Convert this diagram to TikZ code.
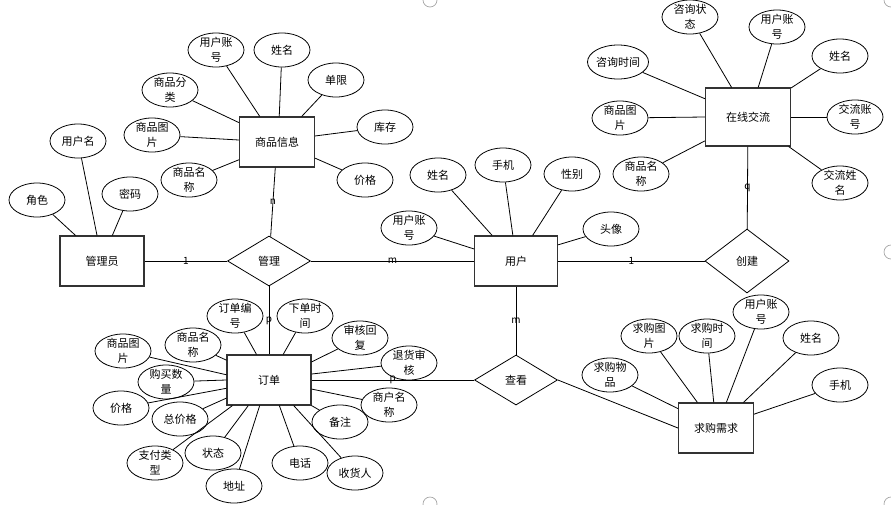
\documentclass[tikz,border=0pt]{standalone}
\usepackage{fontspec}
\setmainfont{Noto Sans CJK SC}
\usepackage{tikz}
\usetikzlibrary{shapes.geometric, positioning}

\begin{document}
\begin{tikzpicture}[x=1pt, y=-1pt, font=\fontsize{11pt}{15pt}\selectfont]
    \tikzstyle{entity} = [rectangle, draw=black!80, line width=1.1pt,
        minimum width=84pt, minimum height=50pt, inner sep=0pt]
    \tikzstyle{attr} = [ellipse, draw, line width=0.8pt, align=center,
        minimum width=56pt, minimum height=34pt, inner sep=-5pt]
    \tikzstyle{rel} = [diamond, draw, line width=0.8pt,
        minimum width=83pt, minimum height=50pt, inner sep=0pt]
    \tikzstyle{line} = [draw, line width=0.8pt]
    \tikzstyle{card} = [font=\fontsize{10pt}{10pt}\selectfont, inner sep=0pt]
    \tikzstyle{handle} = [draw=black!35, line width=0.7pt]

    \useasboundingbox (0,0) rectangle (891,504);

    % entities
    \node [entity, minimum width=75pt] (goods) at (277,142) {商品信息};
    \node [entity] (admin) at (102,261) {管理员};
    \node [entity, minimum width=83pt] (user) at (516,261) {用户};
    \node [entity, minimum width=85pt, minimum height=58pt] (chat) at (748,117) {在线交流};
    \node [entity] (order) at (269,380) {订单};
    \node [entity, minimum width=75pt] (want) at (716,428) {求购需求};

    % relations
    \node [rel] (manage) at (269,261) {管理};
    \node [rel, minimum width=84pt, minimum height=64pt] (create) at (747,261) {创建};
    \node [rel] (view) at (516,380) {查看};

    % goods attributes
    \node [attr] (gAcct) at (216,50) {用户账\\号};
    \node [attr] (gName) at (282,50) {姓名};
    \node [attr] (gLimit) at (336,80) {单限};
    \node [attr] (gStock) at (385,127) {库存};
    \node [attr] (gPrice) at (365,180) {价格};
    \node [attr] (gTitle) at (189,180) {商品名\\称};
    \node [attr] (gPic) at (152,135) {商品图\\片};
    \node [attr] (gType) at (170,90) {商品分\\类};

    % admin attributes
    \node [attr] (aName) at (78,141) {用户名};
    \node [attr] (aRole) at (37,200) {角色};
    \node [attr] (aPwd) at (130,194) {密码};

    % user attributes
    \node [attr] (uName) at (438,175) {姓名};
    \node [attr] (uPhone) at (503,165) {手机};
    \node [attr] (uSex) at (572,174) {性别};
    \node [attr] (uHead) at (611,229) {头像};
    \node [attr] (uAcct) at (409,228) {用户账\\号};

    % chat attributes
    \node [attr] (cState) at (690,17) {咨询状\\态};
    \node [attr] (cAcct) at (777,27) {用户账\\号};
    \node [attr] (cName) at (840,56) {姓名};
    \node [attr] (cPeerAcct) at (855,117) {交流账\\号};
    \node [attr] (cPeerName) at (840,183) {交流姓\\名};
    \node [attr, minimum width=61pt] (cTime) at (618,62) {咨询时间};
    \node [attr] (cPic) at (620,118) {商品图\\片};
    \node [attr] (cTitle) at (641,174) {商品名\\称};

    % order attributes
    \node [attr] (oNo) at (235,316) {订单编\\号};
    \node [attr] (oTime) at (305,316) {下单时\\间};
    \node [attr] (oReply) at (360,338) {审核回\\复};
    \node [attr] (oReturn) at (409,363) {退货审\\核};
    \node [attr] (oShop) at (389,405) {商户名\\称};
    \node [attr] (oNote) at (340,422) {备注};
    \node [attr] (oTaker) at (355,473) {收货人};
    \node [attr] (oTel) at (300,463) {电话};
    \node [attr] (oAddr) at (234,486) {地址};
    \node [attr] (oState) at (213,453) {状态};
    \node [attr] (oPay) at (155,463) {支付类\\型};
    \node [attr] (oTotal) at (180,419) {总价格};
    \node [attr] (oPrice) at (121,408) {价格};
    \node [attr] (oCount) at (166,382) {购买数\\量};
    \node [attr] (oPic) at (123,351) {商品图\\片};
    \node [attr] (oTitle) at (193,345) {商品名\\称};

    % wanted attributes
    \node [attr] (wItem) at (610,375) {求购物\\品};
    \node [attr] (wPic) at (649,336) {求购图\\片};
    \node [attr] (wTime) at (707,336) {求购时\\间};
    \node [attr] (wAcct) at (761,312) {用户账\\号};
    \node [attr] (wName) at (811,338) {姓名};
    \node [attr] (wPhone) at (840,385) {手机};

    % relation lines
    \path [line] (admin) -- node [card] {1} (manage);
    \path [line] (manage) -- node [card] {m} (user);
    \path [line] (manage) -- node [card] {n} (goods);
    \path [line] (manage) -- node [card] {p} (order);
    \path [line] (user) -- node [card] {1} (create);
    \path [line] (create) -- node [card] {q} (chat);
    \path [line] (user) -- node [card] {m} (view);
    \path [line] (order) -- node [card] {p} (view);
    \path [line] (view.east) -- (want.west);

    % attribute lines
    \path [line] (gAcct) -- (goods.124);
    \path [line] (gName) -- (goods.85);
    \path [line] (gLimit) -- (goods.46);
    \path [line] (gStock) -- (goods.9);
    \path [line] (gPrice) -- (goods.-23);
    \path [line] (gTitle) -- (goods.-155);
    \path [line] (gPic) -- (goods.177);
    \path [line] (gType) -- (goods.153);

    \path [line] (aName) -- (admin.101);
    \path [line] (aRole) -- (admin.136);
    \path [line] (aPwd) -- (admin.68);

    \path [line] (uName) -- (user.133);
    \path [line] (uPhone) -- (user.97);
    \path [line] (uSex) -- (user.57);
    \path [line] (uHead) -- (user.21);
    \path [line] (uAcct) -- (user.164);

    \path [line] (cState) -- (chat.119);
    \path [line] (cAcct) -- (chat.71);
    \path [line] (cName) -- (chat.34);
    \path [line] (cPeerAcct) -- (chat.0);
    \path [line] (cPeerName) -- (chat.-36);
    \path [line] (cTime) -- (chat.157);
    \path [line] (cPic) -- (chat.180);
    \path [line] (cTitle) -- (chat.-151);

    \path [line] (oNo) -- (order.116);
    \path [line] (oTime) -- (order.61);
    \path [line] (oReply) -- (order.23);
    \path [line] (oReturn) -- (order.8);
    \path [line] (oShop) -- (order.-12);
    \path [line] (oNote) -- (order.-31);
    \path [line] (oTaker) -- (order.-46);
    \path [line] (oTel) -- (order.-68);
    \path [line] (oAddr) -- (order.-110);
    \path [line] (oState) -- (order.-129);
    \path [line] (oPay) -- (order.-145);
    \path [line] (oTotal) -- (order.-157);
    \path [line] (oPrice) -- (order.-169);
    \path [line] (oCount) -- (order.180);
    \path [line] (oPic) -- (order.173);
    \path [line] (oTitle) -- (order.155);

    \path [line] (wItem) -- (want.153);
    \path [line] (wPic) -- (want.126);
    \path [line] (wTime) -- (want.95);
    \path [line] (wAcct) -- (want.68);
    \path [line] (wName) -- (want.43);
    \path [line] (wPhone) -- (want.20);

    % selection handles
    \draw [handle] (430,0) circle (7);
    \draw [handle] (891,0) circle (7);
    \draw [handle] (891,252) circle (7);
    \draw [handle] (430,504) circle (7);
    \draw [handle] (891,504) circle (7);
\end{tikzpicture}
\end{document}
